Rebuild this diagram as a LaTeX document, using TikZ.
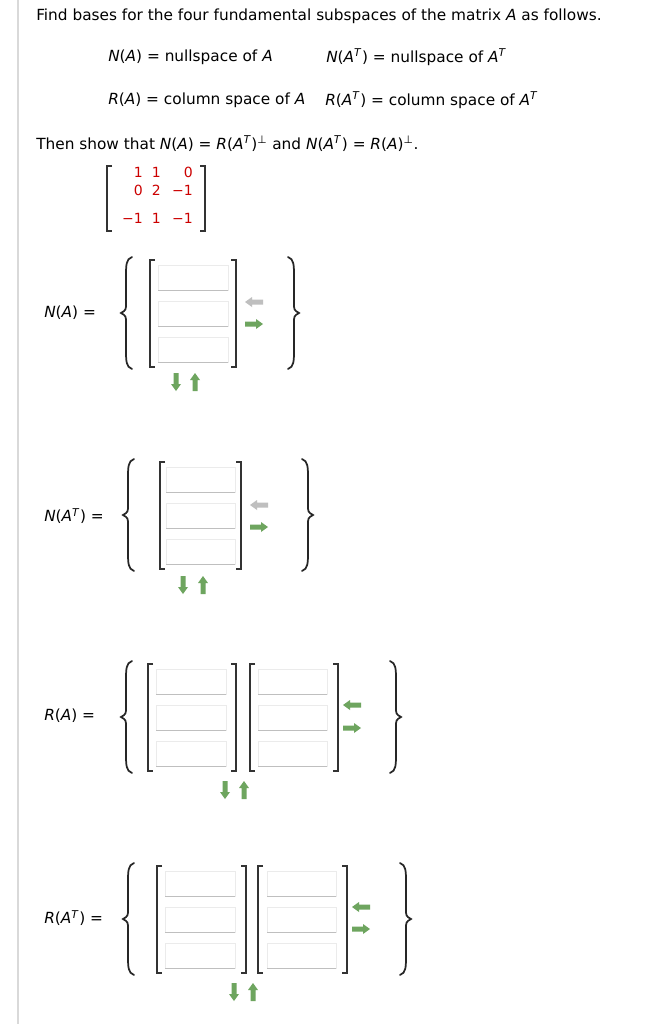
\documentclass[tikz,border=0pt]{standalone}
\usepackage{fontspec}
\setmainfont{DejaVu Sans}
\begin{document}
\begin{tikzpicture}[x=0.75pt,y=-0.75pt,
  txt/.style={anchor=west,inner sep=0,font=\fontsize{11.5}{13}\selectfont},
  ent/.style={anchor=east,inner sep=0,text=red!80!black,font=\fontsize{10.5}{12}\selectfont},
  ibox/.style={draw=black!8,fill=white},
  brk/.style={draw=black!80,line width=0.9pt},
  brc/.style={draw=black!85,line width=1.3pt,line cap=round}]
\useasboundingbox (0,0) rectangle (652,1024);
\fill[white] (0,0) rectangle (652,1024);
\draw[black!15,line width=1pt] (18,0) -- (18,1024);
\newcommand\sT{\textsuperscript{\textit{T}}}
\newcommand\sP{\textsuperscript{⊥}}
\newcommand\mylbrk[3]{\draw[brk] (#1+5,#2) -- (#1,#2) -- (#1,#3) -- (#1+5,#3);}
\newcommand\myrbrk[3]{\draw[brk] (#1-5,#2) -- (#1,#2) -- (#1,#3) -- (#1-5,#3);}
\newcommand\mybox[4]{\draw[ibox] (#1,#2) rectangle (#3,#4); \draw[black!25] (#1,#4) -- (#3,#4);}
\newcommand\myLbr[3]{\draw[brc] (#1+6,#2) .. controls (#1,#2+2) and (#1,#2+8) .. (#1,#2+20) -- (#1,{(#2+#3)/2-10}) .. controls (#1,{(#2+#3)/2-3}) .. (#1-5,{(#2+#3)/2}) .. controls (#1,{(#2+#3)/2+3}) .. (#1,{(#2+#3)/2+10}) -- (#1,#3-20) .. controls (#1,#3-8) and (#1,#3-2) .. (#1+6,#3);}
\newcommand\myRbr[3]{\draw[brc] (#1-6,#2) .. controls (#1,#2+2) and (#1,#2+8) .. (#1,#2+20) -- (#1,{(#2+#3)/2-10}) .. controls (#1,{(#2+#3)/2-3}) .. (#1+5,{(#2+#3)/2}) .. controls (#1,{(#2+#3)/2+3}) .. (#1,{(#2+#3)/2+10}) -- (#1,#3-20) .. controls (#1,#3-8) and (#1,#3-2) .. (#1-6,#3);}
\newcommand\myrarr[3]{\fill[#3] (#1,#2-2.5) -- (#1+11,#2-2.5) -- (#1+11,#2-5) -- (#1+18,#2) -- (#1+11,#2+5) -- (#1+11,#2+2.5) -- (#1,#2+2.5) -- cycle;}
\newcommand\mylarr[3]{\fill[#3] (#1+18,#2-2.5) -- (#1+7,#2-2.5) -- (#1+7,#2-5) -- (#1,#2) -- (#1+7,#2+5) -- (#1+7,#2+2.5) -- (#1+18,#2+2.5) -- cycle;}
\newcommand\mydarr[3]{\fill[#3] (#1-2.5,#2-9) -- (#1+2.5,#2-9) -- (#1+2.5,#2+2) -- (#1+5,#2+2) -- (#1,#2+9) -- (#1-5,#2+2) -- (#1-2.5,#2+2) -- cycle;}
\newcommand\myuarr[3]{\fill[#3] (#1-2.5,#2+9) -- (#1+2.5,#2+9) -- (#1+2.5,#2-2) -- (#1+5,#2-2) -- (#1,#2-9) -- (#1-5,#2-2) -- (#1-2.5,#2-2) -- cycle;}
\definecolor{ga}{RGB}{110,165,95}
\colorlet{gr}{black!25}
\newcommand\mycol[3]{\mybox{#1}{#3}{#2}{#3+25}\mybox{#1}{#3+36}{#2}{#3+61}\mybox{#1}{#3+72}{#2}{#3+97}}

\node[txt] (t1) at (36,16) {Find bases for the four fundamental subspaces of the matrix \textit{A} as follows.};
\node[txt] (d1) at (108,57) {\textit{N}(\textit{A}) = nullspace of \textit{A}};
\node[txt] (d2) at (326,57) {\textit{N}(\textit{A}\sT) = nullspace of \textit{A}\sT};
\node[txt] (d3) at (108,100) {\textit{R}(\textit{A}) = column space of \textit{A}};
\node[txt] (d4) at (325,100) {\textit{R}(\textit{A}\sT) = column space of \textit{A}\sT};
\node[txt] (t2) at (36,144) {Then show that \textit{N}(\textit{A}) = \textit{R}(\textit{A}\sT)\sP{} and \textit{N}(\textit{A}\sT) = \textit{R}(\textit{A})\sP.};
% matrix
\mylbrk{107}{166}{231}\myrbrk{205}{166}{231}
\node[ent] (a11) at (143,172) {1};\node[ent] (a12) at (161,172) {1};\node[ent] (a13) at (193,172) {0};
\node[ent] (a21) at (143,190) {0};\node[ent] (a22) at (161,190) {2};\node[ent] (a23) at (193,190) {−1};
\node[ent] (a31) at (143,218) {−1};\node[ent] (a32) at (161,218) {1};\node[ent] (a33) at (193,218) {−1};
% N(A)
\node[txt] (l1) at (44,313) {\textit{N}(\textit{A}) = };
\myLbr{126}{257}{369}\myRbr{294}{257}{369}
\mylbrk{150}{260}{367}\myrbrk{236}{260}{367}
\mycol{158}{228}{265}
\mylarr{245}{302}{gr}\myrarr{245}{324}{ga}\mydarr{176}{382}{ga}\myuarr{195}{382}{ga}
% N(A^T)
\node[txt] (l2) at (44,516) {\textit{N}(\textit{A}\sT) = };
\myLbr{128}{459}{571}\myRbr{308}{459}{571}
\mylbrk{160}{462}{569}\myrbrk{241}{462}{569}
\mycol{166}{235}{467}
\mylarr{250}{505}{gr}\myrarr{250}{527}{ga}\mydarr{183}{585}{ga}\myuarr{203}{585}{ga}
% R(A)
\node[txt] (l3) at (44,716) {\textit{R}(\textit{A}) = };
\myLbr{126}{661}{773}\myRbr{396}{661}{773}
\mylbrk{148}{664}{771}\myrbrk{236}{664}{771}\mylbrk{250}{664}{771}\myrbrk{338}{664}{771}
\mycol{156}{226}{669}\mycol{258}{327}{669}
\mylarr{343}{705}{ga}\myrarr{343}{728}{ga}\mydarr{225}{790}{ga}\myuarr{244}{790}{ga}
% R(A^T)
\node[txt] (l4) at (44,918) {\textit{R}(\textit{A}\sT) = };
\myLbr{128}{863}{975}\myRbr{406}{863}{975}
\mylbrk{157}{866}{973}\myrbrk{246}{866}{973}\mylbrk{258}{866}{973}\myrbrk{347}{866}{973}
\mycol{165}{235}{871}\mycol{267}{336}{871}
\mylarr{352}{907}{ga}\myrarr{352}{929}{ga}\mydarr{234}{992}{ga}\myuarr{253}{992}{ga}
\end{tikzpicture}
\end{document}
